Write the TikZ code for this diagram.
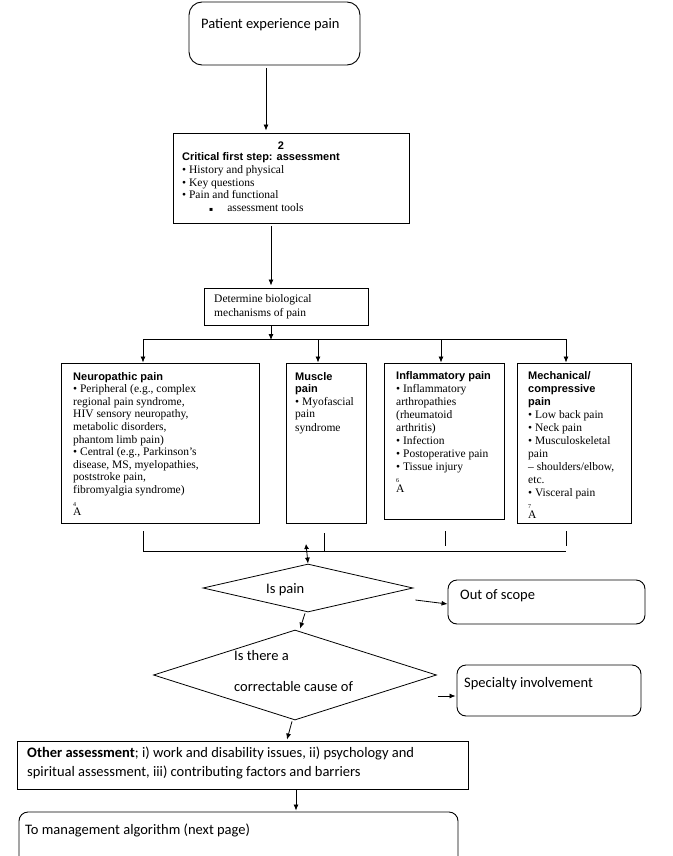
\documentclass[tikz,border=0pt]{standalone}
\usepackage{fontspec}
\setmainfont{Liberation Serif}
\newfontfamily\arialf{Liberation Sans}
\newfontfamily\calib{Carlito}
\newfontfamily\dejavu{DejaVu Sans}
\usetikzlibrary{arrows.meta,shapes.geometric}
\newcommand\hdf{\arialf\bfseries\fontsize{11}{12.6}\selectfont}
\newcommand\supf{\fontsize{6}{6}\selectfont}
\begin{document}
\begin{tikzpicture}[x=1pt,y=-1pt,
  line/.style={line width=0.8pt},
  arr/.style={line width=0.8pt,-{Latex[length=6pt,width=5pt]}},
  box/.style={draw,line width=0.9pt,inner sep=0pt},
  rbox/.style={box,rounded corners=9pt},
  dia/.style={draw,line width=0.8pt,diamond,inner sep=0pt},
  txt/.style={inner sep=0pt,align=left,font=\fontsize{11.5}{12.6}\selectfont},
  txtw/.style={inner sep=0pt,align=left,font=\fontsize{11.5}{13}\selectfont},
  ctxt/.style={inner sep=0pt,font=\calib\fontsize{14.5}{19}\selectfont}]
\clip (0,0) rectangle (672,856);
\fill[white] (0,0) rectangle (672,856);

% boxes
\node[box,rounded corners=13pt,minimum width=171pt,minimum height=63pt] (top) at (274.5,33.5) {};
\node[box,minimum width=236pt,minimum height=90pt] (assess) at (291,178) {};
\node[box,minimum width=164pt,minimum height=37pt] (det) at (286,306.5) {};
\node[box,minimum width=198pt,minimum height=160pt] (neuro) at (160,443) {};
\node[box,minimum width=80pt,minimum height=160pt] (muscle) at (326,443) {};
\node[box,minimum width=120pt,minimum height=156pt] (inflam) at (444,441) {};
\node[box,minimum width=114pt,minimum height=160pt] (mech) at (574,443) {};
\node[dia,minimum width=210pt,minimum height=48pt] (d1) at (308,588) {};
\node[rbox,minimum width=197pt,minimum height=44pt] (oos) at (546.5,602) {};
\node[dia,minimum width=283pt,minimum height=90pt] (d2) at (295,675) {};
\node[rbox,minimum width=184pt,minimum height=51pt] (spec) at (549,690.5) {};
\node[box,minimum width=451pt,minimum height=48pt] (other) at (242.5,765) {};
\node[rbox,minimum width=439pt,minimum height=68pt] (final) at (238.5,846) {};

% texts
\node[ctxt,anchor=west] (toptxt) at (201,25) {Patient experience pain};
\node[inner sep=0pt,font=\hdf] (two) at (281,146) {2};
\node[txt,anchor=north west] (assesstxt) at (182,152) {{\hdf Critical first step: assessment}\\[1pt]
• History and physical\\
• Key questions\\
• Pain and functional\\
\hspace{27pt}{\dejavu\fontsize{6}{6}\selectfont ▪}\hspace{14pt}assessment tools};
\node[txt,anchor=north west,font=\fontsize{11.5}{14}\selectfont] (dettxt) at (214,294) {Determine biological\\mechanisms of pain};
\node[txt,anchor=north west] (neurotxt) at (73,372) {{\hdf Neuropathic pain}\\
• Peripheral (e.g., complex\\
regional pain syndrome,\\
HIV sensory neuropathy,\\
metabolic disorders,\\
phantom limb pain)\\
• Central (e.g., Parkinson's\\
disease, MS, myelopathies,\\
poststroke pain,\\
fibromyalgia syndrome)\\
{\supf 4}\\[-3pt]
A};
\node[txt,anchor=north west] (muscletxt) at (295,372) {{\hdf Muscle}\\
{\hdf pain}\\
• Myofascial\\
pain\\[1pt]
syndrome};
\node[txtw,anchor=north west] (inflamtxt) at (396,371) {{\hdf Inflammatory pain}\\
• Inflammatory\\
arthropathies\\
(rheumatoid\\
arthritis)\\
• Infection\\
• Postoperative pain\\
• Tissue injury\\[-1pt]
{\supf 6}\\[-3pt]
A};
\node[txtw,anchor=north west] (mechtxt) at (528,371) {{\hdf Mechanical/}\\
{\hdf compressive}\\
{\hdf pain}\\
• Low back pain\\
• Neck pain\\
• Musculoskeletal\\
pain\\
– shoulders/elbow,\\
etc.\\
• Visceral pain\\[-1pt]
{\supf 7}\\[-3pt]
A};
\node[ctxt,anchor=west] (d1txt) at (266,590) {Is pain};
\node[ctxt,anchor=west] (oostxt) at (460,596) {Out of scope};
\node[ctxt,anchor=west] (d2txta) at (234,656) {Is there a};
\node[ctxt,anchor=west] (d2txtb) at (234,687) {correctable cause of};
\node[ctxt,anchor=west] (spectxt) at (464,684) {Specialty involvement};
\node[ctxt,anchor=north west,align=left] (othertxt) at (27,747) {\textbf{Other assessment}; i) work and disability issues, ii) psychology and\\spiritual assessment, iii) contributing factors and barriers};
\node[ctxt,anchor=west] (finaltxt) at (25,830) {To management algorithm (next page)};

% connectors
\draw[arr] ([shift={(-8.5,3)}]top.south) -- ([shift={(-25,-2)}]assess.north);
\draw[arr] ([shift={(-20,3)}]assess.south) -- ([shift={(-15,-2)}]det.north);
\coordinate (bus) at (271,339);
\coordinate (busl) at (143,339);
\coordinate (busr) at (566,339);
\draw[arr] ([xshift=-15]det.south) -- ([yshift=-1]bus);
\draw[line] (busl) -- (busr);
\draw[arr] (busl) -- ([xshift=-17]neuro.north);
\draw[arr] (318,339) -- ([xshift=-8]muscle.north);
\draw[arr] (441,339) -- ([xshift=-3]inflam.north);
\draw[arr] (busr) -- ([xshift=-8]mech.north);
% bottom collector
\coordinate (coll) at (143,551);
\coordinate (colr) at (566,551);
\draw[line] ([shift={(-17,8)}]neuro.south) -- (coll) -- (colr);
\draw[line] ([shift={(-2,10)}]muscle.south) -- (324,551);
\draw[line] ([shift={(1,12)}]inflam.south) -- (445,546);
\draw[line] ([shift={(-8,8)}]mech.south) -- (566,546);
\draw[line,{Latex[length=5pt,width=5pt]}-{Latex[length=6pt,width=5pt]}] (306,544) -- (d1.north);
\draw[arr] ([shift={(2,12)}]d1.east) -- ([yshift=-2]oos.west);
\draw[arr] ([shift={(-3,1)}]d1.south) -- ([shift={(5,-1)}]d2.north);
\draw[arr] ([shift={(1,21)}]d2.east) -- ([shift={(-1,5.5)}]spec.west);
\draw[arr] ([shift={(-3,1)}]d2.south) -- ([shift={(44.5,-1)}]other.north);
\draw[arr] ([xshift=53.5]other.south) -- ([shift={(57.5,-1)}]final.north);
\end{tikzpicture}
\end{document}
